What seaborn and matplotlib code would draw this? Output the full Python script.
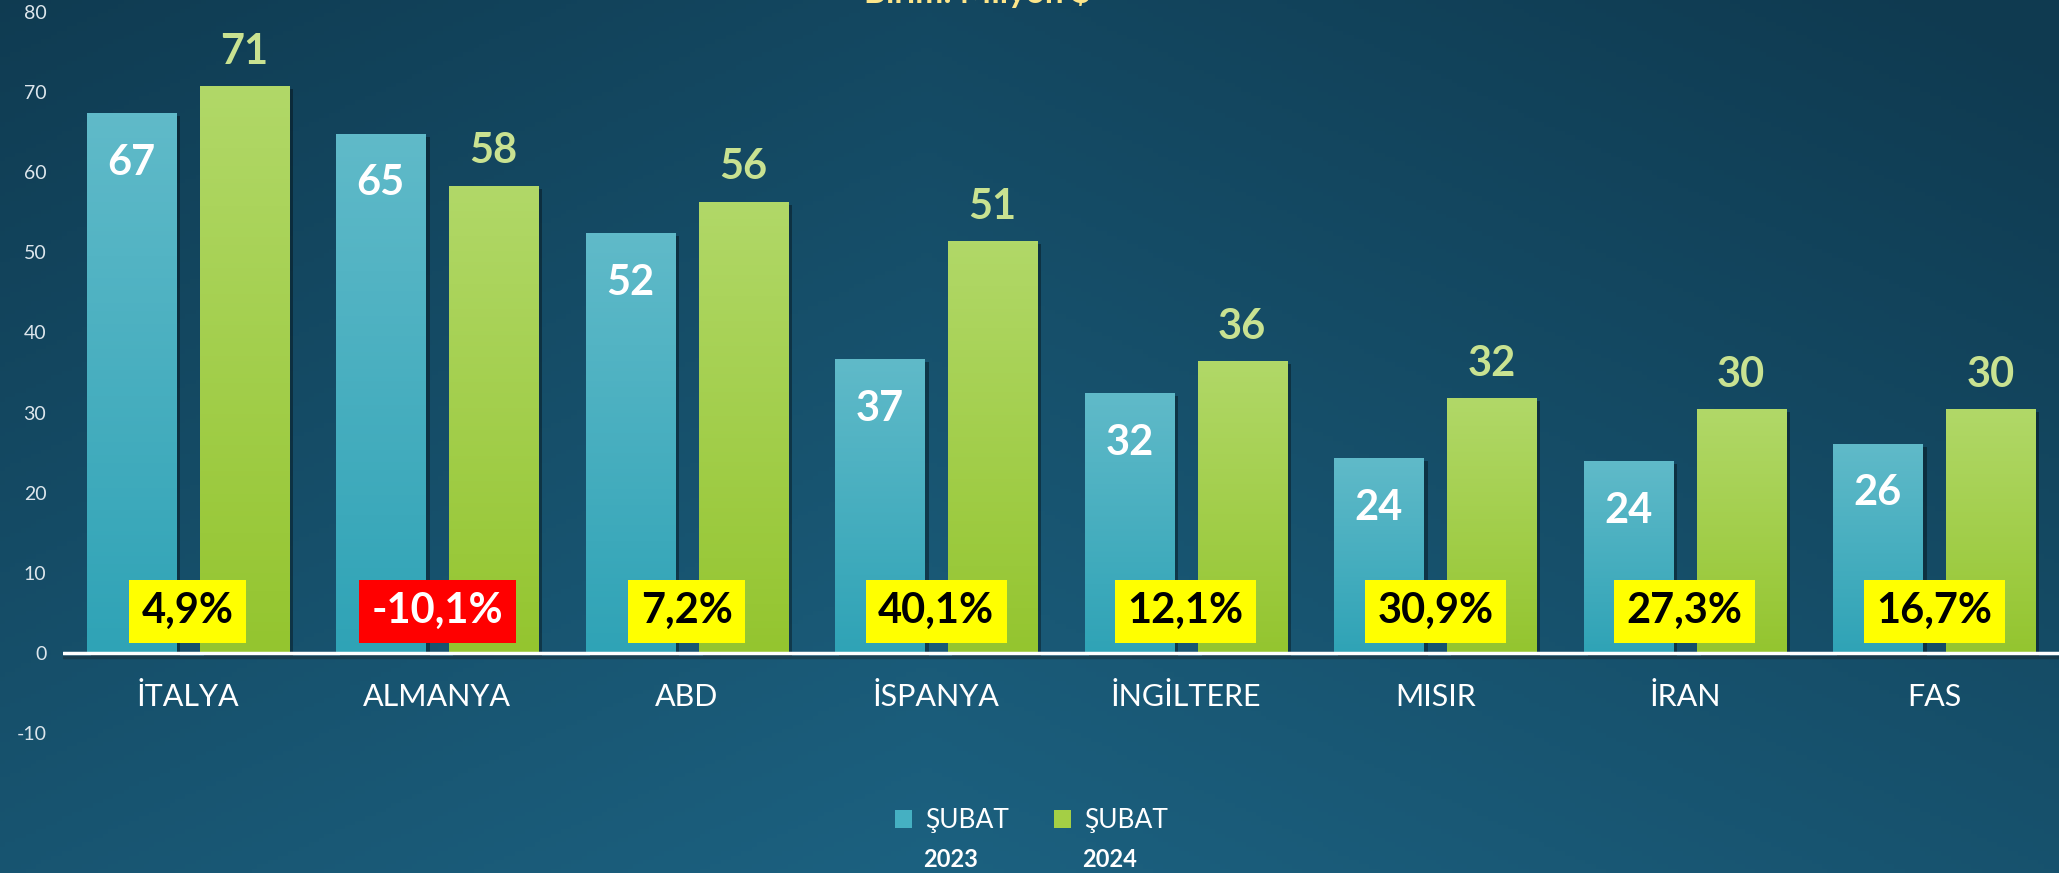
import numpy as np
import pandas as pd
import matplotlib
matplotlib.use("Agg")
import matplotlib.pyplot as plt
import matplotlib.patheffects as pe
from matplotlib.patches import Patch
from matplotlib.colors import to_rgb
import seaborn as sns

# ---------------- data ----------------
countries = ["İTALYA", "ALMANYA", "ABD", "İSPANYA", "İNGİLTERE", "MISIR", "İRAN", "FAS"]
feb_2023 = [67.4, 64.8, 52.4, 36.7, 32.4, 24.3, 23.9, 26.1]
feb_2024 = [70.7, 58.3, 56.3, 51.4, 36.4, 31.8, 30.4, 30.4]
change_pct = [4.9, -10.1, 7.2, 40.1, 12.1, 30.9, 27.3, 16.7]
series_names = ["ŞUBAT 2023", "ŞUBAT 2024"]
legend_month = ["ŞUBAT", "ŞUBAT"]
legend_year = ["2023", "2024"]
y_ticks = [-10, 0, 10, 20, 30, 40, 50, 60, 70, 80]
title = "Birim: Milyon $"

df = pd.DataFrame({
    "country": countries * 2,
    "series": [series_names[0]] * len(countries) + [series_names[1]] * len(countries),
    "value": feb_2023 + feb_2024,
})

# ---------------- style ----------------
sns.set_theme(style="white")
plt.rcParams["font.family"] = ["Lato", "DejaVu Sans"]

BLUE = "#45b0c2"
GREEN = "#a4cf45"
BLUE_TOP, BLUE_BOT = "#60bac9", "#2fa3b6"
GREEN_TOP, GREEN_BOT = "#b1d868", "#94c52f"

fig = plt.figure(figsize=(20.59, 8.73), dpi=100)

# background gradient
bg = fig.add_axes([0, 0, 1, 1], zorder=-10)
yy, xx = np.mgrid[0:1:200j, 0:1:400j]
t = np.clip(0.65 * yy + 0.35 * (1 - 2 * np.abs(xx - 0.45)), 0, 1)
dark = np.array(to_rgb("#0f3a50"))
light = np.array(to_rgb("#1c6180"))
img = dark[None, None, :] + t[..., None] * (light - dark)[None, None, :]
bg.imshow(img, aspect="auto", extent=[0, 1, 0, 1], origin="upper")
bg.axis("off")

ax = fig.add_axes([0.0306, 0.1604, 0.9694, 0.8259])
ax.set_facecolor("none")

sns.barplot(data=df, x="country", y="value", hue="series",
            palette=[BLUE, GREEN], width=0.905, gap=0.21, saturation=1,
            legend=False, ax=ax, errorbar=None)

shadow = [pe.SimplePatchShadow(offset=(3, -2), shadow_rgbFace="black", alpha=0.35), pe.Normal()]
grad_cols = [(BLUE_TOP, BLUE_BOT), (GREEN_TOP, GREEN_BOT)]
for cont, (ctop, cbot) in zip(ax.containers, grad_cols):
    g = np.linspace(0, 1, 128)[:, None]
    ct, cb = np.array(to_rgb(ctop)), np.array(to_rgb(cbot))
    grad = ct[None, None, :] + g[..., None] * (cb - ct)[None, None, :]
    grad = np.repeat(grad, 2, axis=1)
    for bar in cont:
        bar.set_path_effects(shadow)
        bar.set_edgecolor("none")
        x0, w, h = bar.get_x(), bar.get_width(), bar.get_height()
        im = ax.imshow(grad, extent=[x0, x0 + w, 0, h], aspect="auto",
                       origin="upper", zorder=bar.get_zorder() + 0.1)
        im.set_clip_path(bar)

# value labels
for bar, v in zip(ax.containers[0], feb_2023):
    ax.text(bar.get_x() + bar.get_width() / 2, v - 6.2, f"{v:.0f}",
            ha="center", va="center", color="white", fontsize=30,
            fontweight="bold", zorder=10)
for bar, v in zip(ax.containers[1], feb_2024):
    ax.text(bar.get_x() + bar.get_width() / 2, v + 4.3, f"{v:.0f}",
            ha="center", va="center", color="#c9e291", fontsize=30,
            fontweight="bold", zorder=10)

# percentage change boxes
for i, p in enumerate(change_pct):
    txt = f"{p:.1f}%".replace(".", ",")
    pos = p >= 0
    ax.text(i, 5.2, txt, ha="center", va="center",
            color="black" if pos else "white", fontsize=30, fontweight="bold",
            zorder=12,
            bbox=dict(boxstyle="square,pad=0.3", fc="#ffff00" if pos else "#ff0000", ec="none"))

# zero line
ax.axhline(0, color="white", lw=2.5, zorder=11,
           path_effects=[pe.SimpleLineShadow(offset=(0, -3), alpha=0.35), pe.Normal()])

ax.set_xlim(-0.5, len(countries) - 0.5)
ax.set_ylim(-10, 80)
ax.set_yticks(y_ticks)
ax.set_yticklabels([str(v) for v in y_ticks])
ax.set_xticks(range(len(countries)))
ax.set_xticklabels(countries)
ax.tick_params(axis="y", length=0, pad=12, labelsize=14, labelcolor="#dde6ec")
ax.tick_params(axis="x", length=0, pad=-36, labelsize=22, labelcolor="white")
ax.set_xlabel("")
ax.set_ylabel("")
for s in ax.spines.values():
    s.set_visible(False)
ax.grid(False)

# title (mostly cut off at the top, as in the reference)
fig.text(0.475, 0.9966, title, ha="center", va="baseline",
         color="#fde68a", fontsize=24, fontweight="bold")

# legend
handles = [Patch(facecolor=BLUE, edgecolor="none"), Patch(facecolor=GREEN, edgecolor="none")]
leg = fig.legend(handles, legend_month, loc="center", bbox_to_anchor=(0.501, 0.0596),
                 ncol=2, frameon=False, fontsize=19, labelcolor="white",
                 handlelength=0.65, handleheight=0.65, handletextpad=0.5,
                 columnspacing=1.7)
fig.canvas.draw()
r = fig.canvas.get_renderer()
for ttxt, yr in zip(leg.get_texts(), legend_year):
    bb = ttxt.get_window_extent(r).transformed(fig.transFigure.inverted())
    fig.text(bb.x0 - 0.001, 0.0149, yr, ha="left", va="center",
             color="white", fontsize=17, fontweight="bold")

fig.savefig("out.png", dpi=100)
